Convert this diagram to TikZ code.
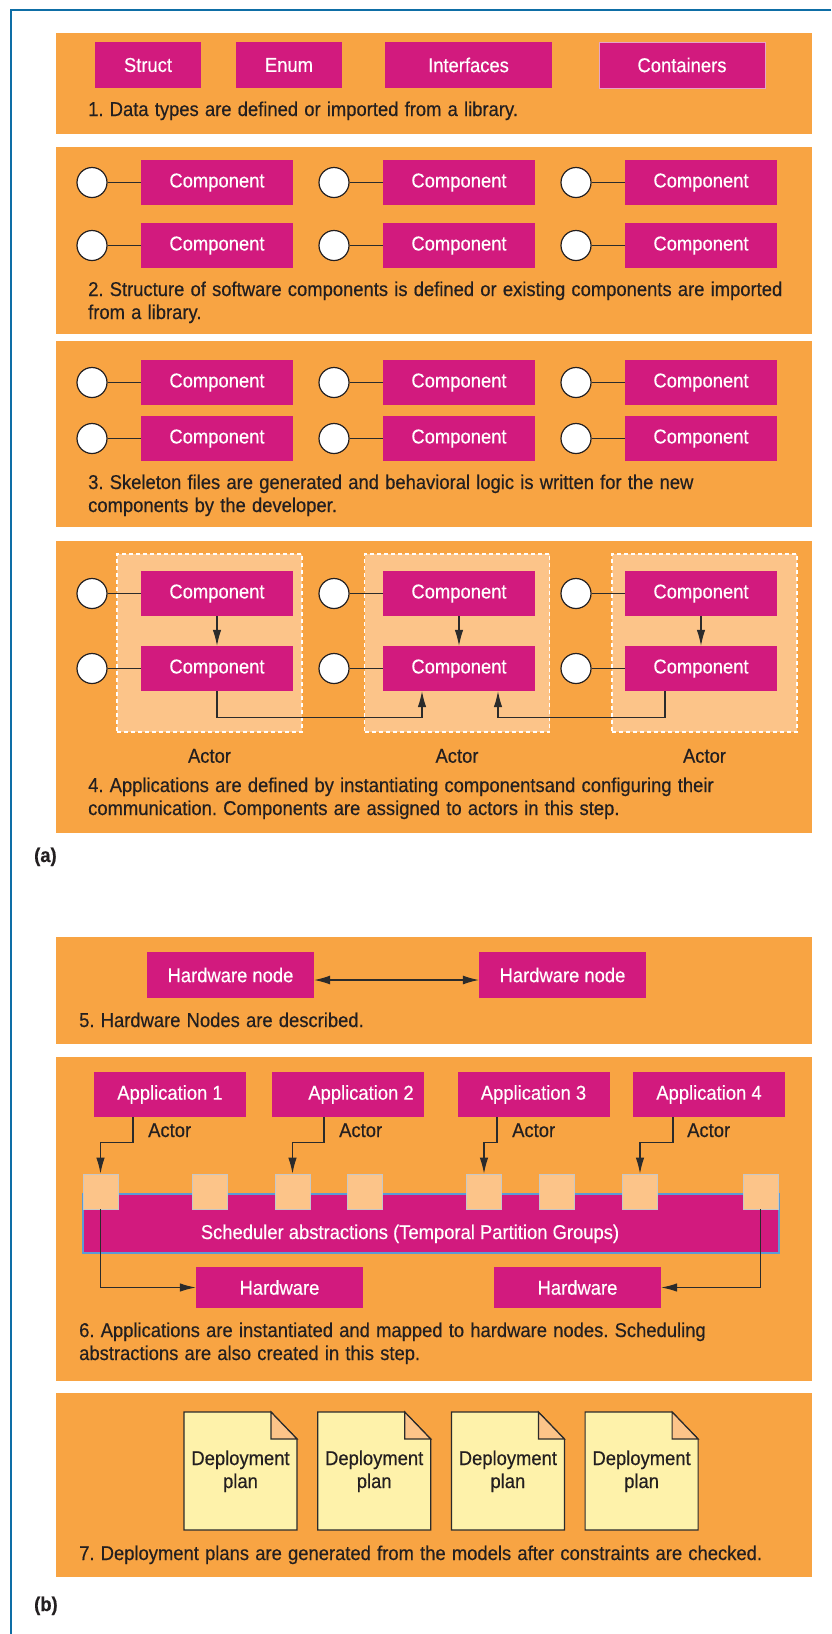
\documentclass[tikz,border=0pt]{standalone}
\usepackage{fontspec}
\setmainfont{Liberation Sans}[FakeStretch=0.92, FakeBold=0.4]
\usetikzlibrary{arrows.meta}
\usetikzlibrary{positioning}

\definecolor{panelorange}{HTML}{F8A443}
\definecolor{boxmagenta}{HTML}{D21A7E}
\definecolor{paleorange}{HTML}{FCC489}
\definecolor{docyellow}{HTML}{FEF2AA}
\definecolor{frameblue}{HTML}{0E6EA6}
\definecolor{barblue}{HTML}{5B9BD5}
\definecolor{inkgray}{HTML}{231F20}
\definecolor{wiregray}{HTML}{2B2B2B}
\definecolor{edgepink}{HTML}{E7A3C8}
\newcommand\figfont{\fontsize{20pt}{23pt}\selectfont}
\newskip\stepspace
\stepspace 6.2pt plus 2pt minus 1pt
\newcommand\stepfont{\figfont\spaceskip\stepspace}

\begin{document}
\frenchspacing
\begin{tikzpicture}[x=1pt, y=-1pt,
  magbox/.style={fill=boxmagenta, text=white, inner sep=0pt, minimum height=45pt, font=\figfont},
  compbox/.style={magbox, minimum width=152pt},
  port/.style={circle, draw=inkgray, fill=white, line width=1.2pt, minimum size=30pt, inner sep=0pt},
  wire/.style={draw=wiregray, line width=1.1pt},
  flow/.style={wire, -{Latex[length=16pt,width=8.5pt]}},
  steptext/.style={anchor=base west, inner sep=0pt, align=left, text=inkgray, font=\stepfont},
  actorbox/.style={fill=paleorange, draw=white, line width=1.5pt, dash pattern=on 4pt off 3pt, minimum width=185pt, minimum height=178pt},
  slot/.style={fill=paleorange, draw=black!22, line width=0.8pt, minimum size=35pt, inner sep=0pt},
  doctext/.style={align=center, text=inkgray, font=\figfont, inner sep=0pt, anchor=base}]

\useasboundingbox (0,0) rectangle (831,1634);
\draw[frameblue, line width=2.5pt] (831,10) -- (11,10) -- (11,1634);

\foreach \ya/\yb in {33/134,147/334,341/527,541/833,937/1044,1057/1381,1393/1577}
  \fill[panelorange] (56,\ya) rectangle (812,\yb);

\node[magbox, minimum width=106pt, minimum height=46pt] (struct) at (148,65) {Struct};
\node[magbox, minimum width=106pt, minimum height=46pt] (enum) at (289,65) {Enum};
\node[magbox, minimum width=167pt, minimum height=46pt] (interfaces) at (468.5,65) {Interfaces};
\node[magbox, minimum width=166pt, minimum height=46pt, draw=edgepink, line width=0.8pt] (containers) at (682,65) {Containers};
\node[steptext] (step1) at (88,116) {1. Data types are defined or imported from a library.};

\foreach \r/\y in {1/182.5,2/245.5} {
  \foreach \c [evaluate=\c as \cx using 217+242*(\c-1)] in {1,2,3} {
    \node[compbox] (stwo\r\c) at (\cx,\y) {Component};
    \node[port] (ptwo\r\c) at (\cx-125,\y) {};
    \draw[wire] (ptwo\r\c) -- (stwo\r\c);
  }
}
\node[steptext] (step2) at (88,319) {2. Structure of software components is defined or existing components are imported\\from a library.};

\foreach \r/\y in {1/382.5,2/438.5} {
  \foreach \c [evaluate=\c as \cx using 217+242*(\c-1)] in {1,2,3} {
    \node[compbox] (sthree\r\c) at (\cx,\y) {Component};
    \node[port] (pthree\r\c) at (\cx-125,\y) {};
    \draw[wire] (pthree\r\c) -- (sthree\r\c);
  }
}
\node[steptext] (step3) at (88,512) {3. Skeleton files are generated and behavioral logic is written for the new\\components by the developer.};

\foreach \c [evaluate=\c as \ax using 209.5+247.5*(\c-1)] in {1,2,3} {
  \node[actorbox] (act\c) at (\ax,643) {};
  \node[font=\figfont, text=inkgray, inner sep=0pt, below=16pt of act\c] (actlab\c) {Actor};
}
\foreach \r/\y in {1/593.5,2/668.5} {
  \foreach \c [evaluate=\c as \cx using 217+242*(\c-1)] in {1,2,3} {
    \node[compbox] (sfour\r\c) at (\cx,\y) {Component};
    \node[port] (pfour\r\c) at (\cx-125,\y) {};
    \draw[wire] (pfour\r\c) -- (sfour\r\c);
  }
}
\foreach \c in {1,2,3}
  \draw[flow] (sfour1\c) -- (sfour2\c);
\draw[flow] (sfour21.south) -- ++(0,26) -| ([xshift=-37pt]sfour22.south);
\draw[flow] ([xshift=-36pt]sfour23.south) -- ++(0,26) -| ([xshift=39pt]sfour22.south);
\node[steptext] (step4) at (88,815) {4. Applications are defined by instantiating componentsand configuring their\\communication. Components are assigned to actors in this step.};

\node[font=\figfont\bfseries, text=inkgray, anchor=base west, inner sep=0pt] (tagA) at (34,862) {(a)};

\node[magbox, minimum width=167pt, minimum height=46pt] (hn1) at (230.5,975) {Hardware node};
\node[magbox, minimum width=167pt, minimum height=46pt] (hn2) at (562.5,975) {Hardware node};
\draw[wire, {Latex[length=16pt,width=9pt]}-{Latex[length=16pt,width=9pt]}] ([yshift=-5pt]hn1.east) -- ([yshift=-5pt]hn2.west);
\node[steptext] (step5) at (79,1027) {5. Hardware Nodes are described.};

\node[compbox] (app1) at (170,1094.5) {Application 1};
\node[compbox] (app2) at (348,1094.5) {\hspace*{26pt}Application 2};
\node[compbox] (app3) at (533.5,1094.5) {Application 3};
\node[compbox] (app4) at (709,1094.5) {Application 4};
\node[fill=boxmagenta, draw=barblue, line width=2pt, minimum width=696pt, minimum height=59pt, inner sep=0pt] (sched) at (431,1223.5) {};
\node[font=\figfont, text=white, anchor=base, inner sep=0pt] (schedtext) at (410,1239) {Scheduler abstractions (Temporal Partition Groups)};
\foreach \s/\sx in {1/100.5,2/209.5,3/292.5,4/364.5,5/484,6/556.5,7/640,8/760.5}
  \node[slot] (sq\s) at (\sx,1191.5) {};
\draw[flow] ([xshift=-37pt]app1.south) -- ++(0,25) -| (sq1.north);
\draw[flow] ([xshift=-24pt]app2.south) -- ++(0,25) -| (sq3.north);
\draw[flow] ([xshift=-36.5pt]app3.south) -- ++(0,25) -| (sq5.north);
\draw[flow] ([xshift=-36pt]app4.south) -- ++(0,25) -| (sq7.north);
\node[steptext] (actor1) at (148,1137) {Actor};
\node[steptext] (actor2) at (339,1137) {Actor};
\node[steptext] (actor3) at (512,1137) {Actor};
\node[steptext] (actor4) at (687,1137) {Actor};
\node[magbox, minimum width=167pt, minimum height=41pt] (hw1) at (279.5,1287.5) {Hardware};
\node[magbox, minimum width=167pt, minimum height=41pt] (hw2) at (577.5,1287.5) {Hardware};
\draw[flow] (sq1.south) |- (hw1.west);
\draw[flow] (sq8.south) |- (hw2.east);
\node[steptext] (step6) at (79,1360) {6. Applications are instantiated and mapped to hardware nodes. Scheduling\\abstractions are also created in this step.};

\foreach \d [evaluate=\d as \dx using 184+133.7*(\d-1)] in {1,...,4} {
  \filldraw[fill=docyellow, draw=wiregray, line width=1.2pt] (\dx,1412) -- ++(87,0) -- ++(26,27) -- ++(0,91) -- ++(-113,0) -- cycle;
  \filldraw[fill=paleorange, draw=wiregray, line width=1.2pt] (\dx+87,1412) -- ++(0,27) -- ++(26,0) -- cycle;
  \node[doctext] (plan\d) at (\dx+56.5,1488) {Deployment\\plan};
}
\node[steptext] (step7) at (79,1560) {7. Deployment plans are generated from the models after constraints are checked.};

\node[font=\figfont\bfseries, text=inkgray, anchor=base west, inner sep=0pt] (tagB) at (34,1611) {(b)};
\end{tikzpicture}
\end{document}
